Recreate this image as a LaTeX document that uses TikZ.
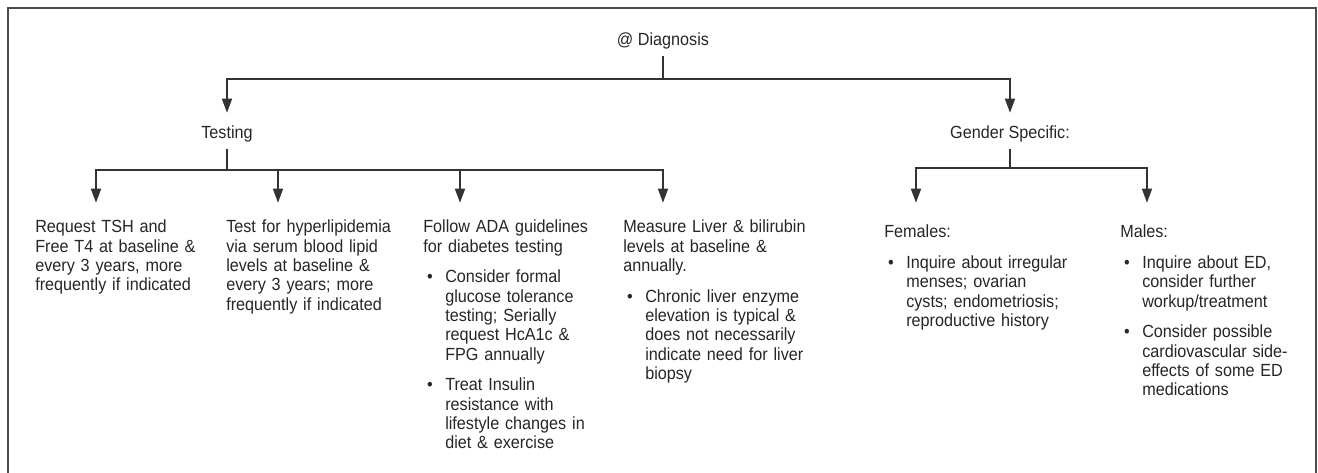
\documentclass[tikz,border=0pt]{standalone}
\usepackage{fontspec}
\setmainfont{Liberation Sans}[FakeStretch=0.92]
\usetikzlibrary{arrows.meta,positioning}

\newcommand{\bitem}[1]{\par\vspace{8.5pt}\hangindent=16.5pt\hangafter=0\noindent\llap{\textbullet\hspace{9.3pt}}#1\par}

\begin{document}
\begin{tikzpicture}[x=0.75pt,y=-0.75pt,
  every node/.style={font=\fontsize{13.2}{14.5}\selectfont, text=black!85},
  head/.style={anchor=base, inner xsep=0pt, inner ysep=0pt, text height=9pt, text depth=3pt},
  col/.style={anchor=base west, text width=142pt, align=left, inner xsep=0pt, inner ysep=13.5pt, text height=9pt},
  link/.style={draw=black!80, line width=1.1pt},
  arr/.style={link, -{Triangle[length=10.5pt,width=7.5pt]}}]
  \useasboundingbox (0,0) rectangle (1318,473);
  \draw[line width=1.5pt, draw=black!70] (7.5,473) -- (7.5,8.5) -- (1316,8.5) -- (1316,473);

  \node[head](diag) at (663,46) {@ Diagnosis};
  \node[head](testing) at (227,139) {Testing};
  \node[head](gender) at (1010,139) {Gender Specific:};

  \node[col](thyroid) at (35,233) {Request TSH and\\Free T4 at baseline \&\\every 3 years, more\\frequently if indicated};
  \node[col](lipid) at (226,233) {Test for hyperlipidemia\\via serum blood lipid\\levels at baseline \&\\every 3 years; more\\frequently if indicated};
  \node[col](diabetes) at (423,233) {Follow ADA guidelines\\for diabetes testing
    \bitem{Consider formal\newline glucose tolerance\newline testing; Serially\newline request HcA1c \&\newline FPG annually}
    \bitem{Treat Insulin\newline resistance with\newline lifestyle changes in\newline diet \& exercise}};
  \node[col](liver) at (623,233) {Measure Liver \& bilirubin\\levels at baseline \&\\annually.
    \bitem{Chronic liver enzyme\newline elevation is typical \&\newline does not necessarily\newline indicate need for liver\newline biopsy}};
  \node[col, inner ysep=17.25pt](females) at (884,238) {Females:
    \bitem{Inquire about irregular\newline menses; ovarian\newline cysts; endometriosis;\newline reproductive history}};
  \node[col, inner ysep=17.25pt](males) at (1120,238) {Males:
    \bitem{Inquire about ED,\newline consider further\newline workup/treatment}
    \bitem{Consider possible\newline cardiovascular side-\newline effects of some ED\newline medications}};

  \coordinate (topbus) at (663,79);
  \coordinate (testbus) at (227,170);
  \coordinate (genderbus) at (1010,168);

  \draw[link, shorten <=4.5pt] (diag) -- (topbus);
  \draw[arr, shorten >=10.5pt] (topbus) -| (testing);
  \draw[arr, shorten >=10.5pt] (topbus) -| (gender);

  \draw[link, shorten <=4.5pt] (testing) -- (testbus);
  \foreach \n/\dx in {thyroid/45.75pt, lipid/39pt, diabetes/27.75pt, liver/30pt}
    \draw[arr] (testbus) -| ([xshift=\dx]\n.north west);

  \draw[link, shorten <=4.5pt] (gender) -- (genderbus);
  \foreach \n/\dx in {females/24pt, males/20.25pt}
    \draw[arr] (genderbus) -| ([xshift=\dx]\n.north west);
\end{tikzpicture}
\end{document}
